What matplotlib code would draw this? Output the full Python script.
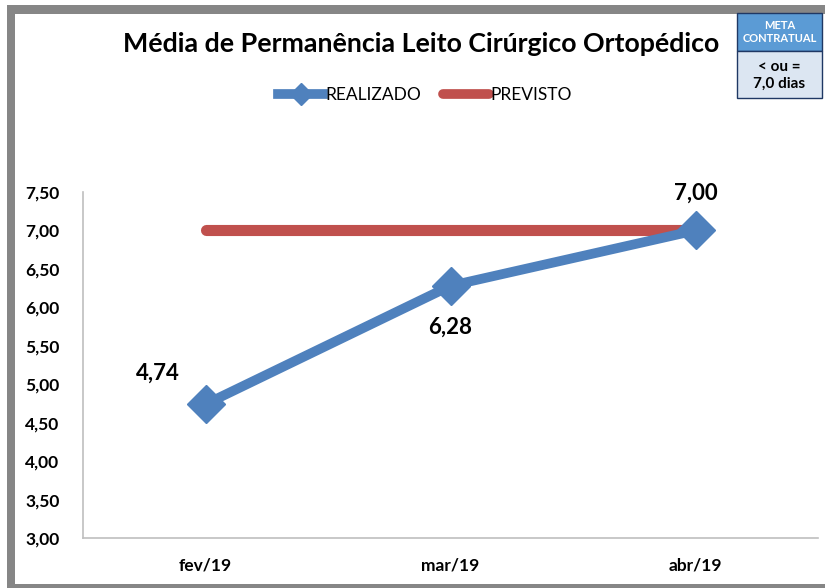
import matplotlib.pyplot as plt
import matplotlib.patches as patches
from matplotlib.lines import Line2D
import numpy as np

plt.rcParams['font.family'] = ['Lato', 'DejaVu Sans']

# data
months = ['fev/19', 'mar/19', 'abr/19']
realizado = [4.74, 6.28, 7.00]
previsto = [7.0, 7.0, 7.0]
yticks = [3.0, 3.5, 4.0, 4.5, 5.0, 5.5, 6.0, 6.5, 7.0, 7.5]

W, H = 825, 588
fig = plt.figure(figsize=(W / 100, H / 100), dpi=100)
fig.patch.set_facecolor('white')

# gray frame around the chart
gray = '#868686'
fig.patches.append(patches.Rectangle((7 / W, 0), 8 / W, (H - 5) / H, transform=fig.transFigure,
                                     facecolor=gray, edgecolor='none'))
fig.patches.append(patches.Rectangle((7 / W, (H - 14) / H), (W - 7) / W, 9 / H, transform=fig.transFigure,
                                     facecolor=gray, edgecolor='none'))
fig.patches.append(patches.Rectangle((7 / W, 0), (W - 7) / W, 4 / H, transform=fig.transFigure,
                                     facecolor=gray, edgecolor='none'))

ax = fig.add_axes([83 / W, (H - 538) / H, (818 - 83) / W, (538 - 192) / H])
x = np.arange(len(months))

ax.plot(x, previsto, color='#C0504D', lw=8, solid_capstyle='round', zorder=2)
ax.plot(x, realizado, color='#4F81BD', lw=7, marker='D', markersize=19,
        markeredgecolor='#4F81BD', solid_joinstyle='round', zorder=3)

ax.set_xlim(-0.5, 2.5)
ax.set_ylim(3.0, 7.5)
ax.set_yticks(yticks)
ax.set_yticklabels([f'{v:.2f}'.replace('.', ',') for v in yticks], fontsize=12.5, fontweight='bold')
ax.set_xticks(x)
ax.set_xticklabels(months, fontsize=12.5, fontweight='bold')
ax.tick_params(length=0, pad=17)
ax.tick_params(axis='x', pad=14)
for s in ['top', 'right']:
    ax.spines[s].set_visible(False)
for s in ['left', 'bottom']:
    ax.spines[s].set_color('#BFBFBF')
    ax.spines[s].set_linewidth(1.2)

# data labels
lbl = [f'{v:.2f}'.replace('.', ',') for v in realizado]
ax.annotate(lbl[0], (x[0], realizado[0]), xytext=(-34, 22), textcoords='offset points',
            ha='center', va='center', fontsize=16, fontweight='bold')
ax.annotate(lbl[1], (x[1], realizado[1]), xytext=(0, -30), textcoords='offset points',
            ha='center', va='center', fontsize=16, fontweight='bold')
ax.annotate(lbl[2], (x[2], realizado[2]), xytext=(0, 27), textcoords='offset points',
            ha='center', va='center', fontsize=16, fontweight='bold')

fig.text(421 / W, 1 - 44 / H, 'Média de Permanência Leito Cirúrgico Ortopédico',
         ha='center', va='center', fontsize=19.3, fontweight='bold')

handles = [Line2D([], [], color='#4F81BD', lw=7, marker='D', markersize=11),
           Line2D([], [], color='#C0504D', lw=7, solid_capstyle='round')]
fig.legend(handles, ['REALIZADO', 'PREVISTO'], loc='center', bbox_to_anchor=(425 / W, 1 - 95 / H),
           ncol=2, frameon=False, fontsize=12.5, handlelength=2.6, handletextpad=0.1,
           columnspacing=1.3)

# meta contratual box
bx0, bx1 = 737 / W, 822 / W
fig.patches.append(patches.Rectangle((bx0, 1 - 51 / H), bx1 - bx0, 38 / H, transform=fig.transFigure,
                                     facecolor='#5B9BD5', edgecolor='#1F3864', lw=1))
fig.patches.append(patches.Rectangle((bx0, 1 - 98 / H), bx1 - bx0, 47 / H, transform=fig.transFigure,
                                     facecolor='#DCE6F2', edgecolor='#1F3864', lw=1))
fig.text((bx0 + bx1) / 2, 1 - 32 / H, 'META\nCONTRATUAL', ha='center', va='center',
         fontsize=8, fontweight='bold', color='white', linespacing=1.3)
fig.text((bx0 + bx1) / 2, 1 - 75 / H, '< ou =\n7,0 dias', ha='center', va='center',
         fontsize=11, fontweight='bold', color='black', linespacing=1.25)

fig.savefig('out.png', dpi=100)
